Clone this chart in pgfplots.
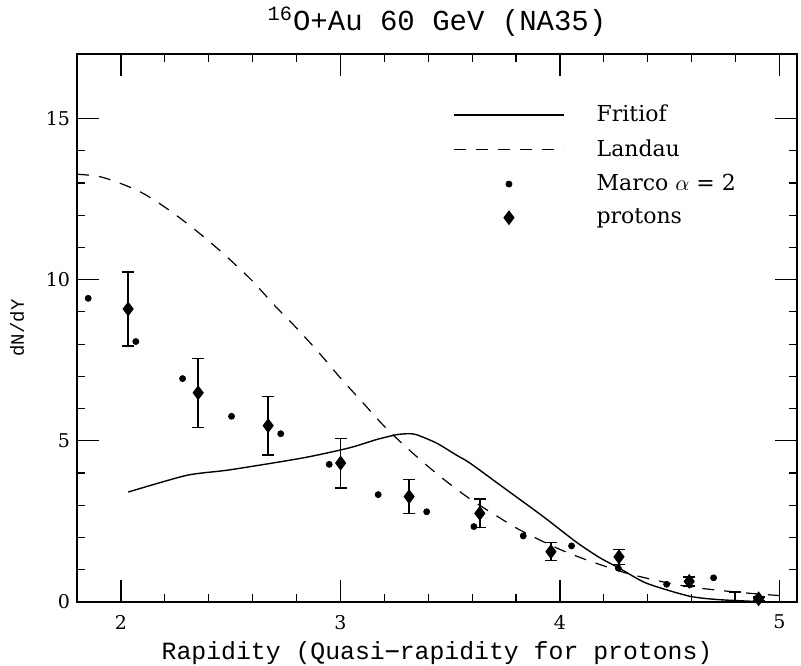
\documentclass[border=0pt]{standalone}
\usepackage{fontspec}
\setmainfont{DejaVu Serif}
\newfontfamily\monof{Liberation Mono}
\usepackage{pgfplots}
\pgfplotsset{compat=1.18}
\usetikzlibrary{calc}
\begin{document}
\begin{tikzpicture}
\begin{axis}[
  name=ax,
  scale only axis,
  width=360pt, height=274pt,
  xmin=1.8, xmax=5.08, ymin=0, ymax=17,
  xtick={2,3,4,5}, ytick={0,5,10,15},
  minor x tick num=4, minor y tick num=4,
  major tick length=11pt, minor tick length=3.8pt,
  tick align=inside, xtick pos=both, ytick pos=both,
  axis line style={line width=0.7pt},
  every tick/.style={line width=0.6pt, black},
  /pgf/number format/assume math mode=true,
  tick label style={font=\fontsize{9.5}{11}\selectfont},
  xticklabel style={yshift=-3pt},
  title={\monof\fontsize{14.5}{16}\selectfont \textsuperscript{16}O+Au 60 GeV (NA35)},
  title style={yshift=-1pt},
  xlabel={\monof\fontsize{12.4}{14}\selectfont Rapidity (Quasi{\fontspec{DejaVu Sans Mono}−}rapidity for protons)},
  ylabel={\monof\fontsize{9.5}{11}\selectfont dN/dY},
  xlabel style={yshift=1pt},
  ylabel style={yshift=4pt},
  legend image code/.code={\draw[mark repeat=2,mark phase=2,#1] plot coordinates {(0pt,0pt) (27.5pt,0pt) (55pt,0pt)};},
  legend style={at={(0.522,0.915)}, anchor=north west, draw=none, fill=none,
    font=\fontsize{11}{13}\selectfont, inner sep=0pt, row sep=3.5pt,
    /tikz/every odd column/.append style={column sep=14pt}},
  legend cell align=left,
]
\addplot[black, line width=0.7pt, smooth, tension=0.4] coordinates {
(2.033,3.41) (2.30,3.93) (2.497,4.10) (2.83,4.47) (3.04,4.78) (3.165,5.04)
(3.256,5.19) (3.31,5.22) (3.347,5.19) (3.438,4.93) (3.53,4.55) (3.59,4.31)
(3.757,3.48) (3.924,2.65) (4.076,1.85) (4.18,1.38) (4.27,1.05) (4.395,0.58)
(4.59,0.18) (4.73,0.07) (4.95,0.0)};
\addlegendentry{Fritiof}
\addplot[black, line width=0.6pt, dash pattern=on 6pt off 5pt, smooth, tension=0.5] coordinates {
(1.80,13.27) (1.90,13.20) (2.00,12.98) (2.10,12.68) (2.20,12.25) (2.30,11.75)
(2.40,11.20) (2.50,10.60) (2.60,9.95) (2.70,9.20) (2.80,8.50) (2.90,7.75)
(3.00,6.95) (3.10,6.20) (3.20,5.45) (3.30,4.80) (3.40,4.20) (3.50,3.65)
(3.60,3.15) (3.70,2.72) (3.80,2.30) (3.90,1.95) (4.00,1.63) (4.10,1.36)
(4.20,1.12) (4.30,0.90) (4.40,0.73) (4.50,0.58) (4.60,0.46) (4.70,0.38)
(4.80,0.31) (4.90,0.25) (5.00,0.20)};
\addlegendentry{Landau}
\addplot[black, only marks, mark=*, mark size=1.5pt] coordinates {
(1.851,9.42) (2.068,8.08) (2.281,6.93) (2.504,5.76) (2.728,5.22) (2.949,4.27)
(3.172,3.33) (3.393,2.80) (3.608,2.34) (3.833,2.05) (4.053,1.74) (4.266,1.05)
(4.486,0.55) (4.70,0.75) (4.90,0.12)};
\addlegendentry{Marco $\alpha$ = 2}
\addplot[black, only marks, mark=diamond*, mark size=3.4pt,
  error bars/.cd, y dir=both, y explicit,
  error bar style={line width=0.8pt},
  error mark options={rotate=90, mark size=3pt, line width=0.7pt}]
  table[x=x, y=y, y error=e] {
x y e
2.033 9.09 1.15
2.352 6.49 1.07
2.671 5.47 0.91
3.001 4.31 0.77
3.313 3.27 0.53
3.635 2.75 0.44
3.959 1.56 0.28
4.269 1.40 0.23
4.589 0.64 0.14
4.905 0.10 0.05
};
\addlegendentry{protons}
\addplot[draw=none, mark=none, forget plot,
  error bars/.cd, y dir=plus, y explicit,
  error bar style={line width=0.8pt, black},
  error mark options={rotate=90, mark size=3pt, line width=0.7pt, black}]
  table[x=x, y=y, y error=e] {
x y e
4.797 0.0 0.31
};
\end{axis}
\pgfresetboundingbox
\path ($(ax.south west)+(-38.5pt,-32pt)$) rectangle ($(ax.north east)+(2pt,27pt)$);
\end{tikzpicture}
\end{document}
